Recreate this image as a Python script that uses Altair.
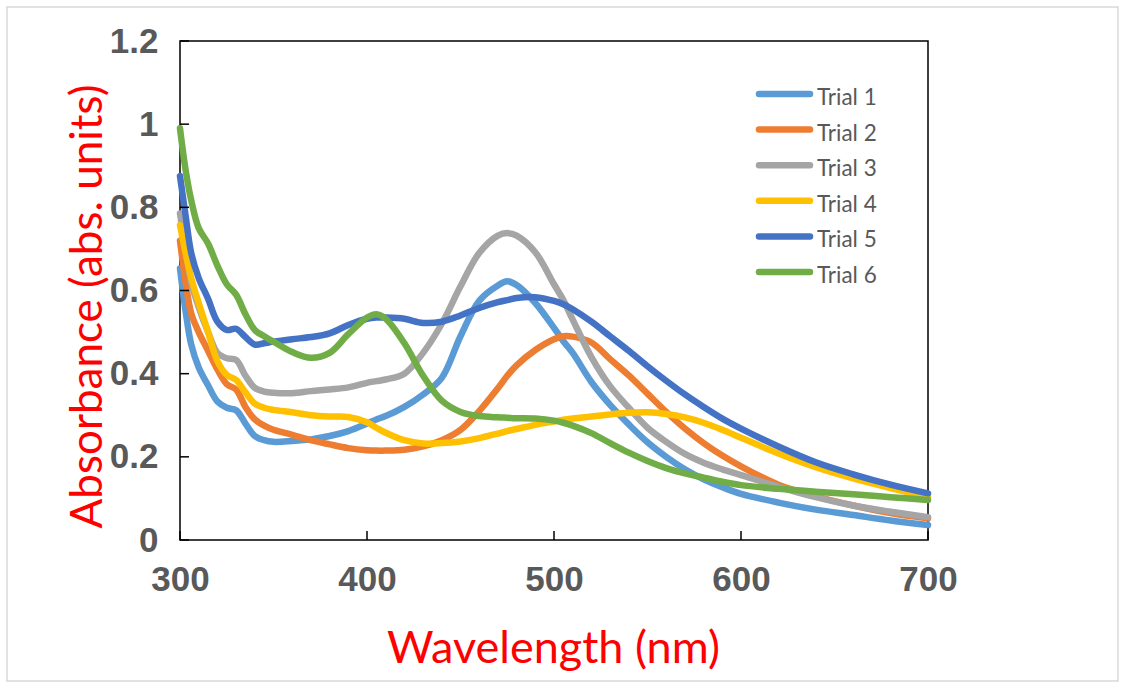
import altair as alt
import pandas as pd

# ---------------- data ----------------
wavelength = [300, 303, 306, 310, 315, 320, 325, 330, 335, 340, 345, 350, 360, 370, 380,
              390, 400, 405, 410, 420, 430, 440, 450, 460, 470, 475, 480, 490, 500, 505,
              510, 520, 530, 540, 550, 560, 570, 580, 590, 600, 620, 640, 660, 680, 700]

trial_1 = [0.653, 0.55, 0.47, 0.415, 0.372, 0.333, 0.318, 0.312, 0.28, 0.25,
           0.24, 0.236, 0.238, 0.242, 0.25, 0.262, 0.28, 0.29, 0.298, 0.32,
           0.35, 0.39, 0.49, 0.575, 0.612, 0.622, 0.613, 0.57, 0.51, 0.478,
           0.45, 0.38, 0.325, 0.278, 0.235, 0.2, 0.17, 0.146, 0.127, 0.111,
           0.09, 0.073, 0.06, 0.047, 0.036]
trial_2 = [0.72, 0.62, 0.545, 0.50, 0.455, 0.41, 0.375, 0.362, 0.32, 0.29,
           0.275, 0.265, 0.253, 0.24, 0.23, 0.221, 0.216, 0.215, 0.215, 0.217,
           0.225, 0.24, 0.265, 0.31, 0.365, 0.395, 0.42, 0.457, 0.483, 0.49,
           0.489, 0.475, 0.435, 0.396, 0.352, 0.308, 0.268, 0.233, 0.203, 0.177,
           0.133, 0.105, 0.083, 0.065, 0.052]
trial_3 = [0.785, 0.70, 0.62, 0.56, 0.50, 0.45, 0.437, 0.433, 0.395, 0.366,
           0.357, 0.354, 0.353, 0.358, 0.362, 0.367, 0.378, 0.382, 0.386, 0.40,
           0.45, 0.52, 0.61, 0.69, 0.732, 0.738, 0.732, 0.692, 0.615, 0.577,
           0.53, 0.44, 0.37, 0.318, 0.27, 0.236, 0.207, 0.186, 0.17, 0.156,
           0.128, 0.103, 0.083, 0.068, 0.055]
trial_4 = [0.757, 0.69, 0.63, 0.57, 0.50, 0.43, 0.397, 0.385, 0.355, 0.328,
           0.318, 0.313, 0.307, 0.30, 0.297, 0.296, 0.283, 0.27, 0.258, 0.24,
           0.232, 0.233, 0.237, 0.245, 0.256, 0.262, 0.267, 0.277, 0.285, 0.289,
           0.292, 0.297, 0.302, 0.306, 0.307, 0.303, 0.295, 0.282, 0.265, 0.246,
           0.208, 0.175, 0.148, 0.125, 0.104]
trial_5 = [0.875, 0.78, 0.69, 0.63, 0.58, 0.525, 0.505, 0.508, 0.488, 0.47,
           0.473, 0.477, 0.483, 0.488, 0.497, 0.517, 0.532, 0.535, 0.535, 0.532,
           0.522, 0.525, 0.54, 0.558, 0.572, 0.577, 0.582, 0.584, 0.575, 0.567,
           0.555, 0.525, 0.49, 0.455, 0.418, 0.383, 0.35, 0.32, 0.292, 0.268,
           0.225, 0.187, 0.158, 0.133, 0.112]
trial_6 = [0.99, 0.89, 0.817, 0.75, 0.713, 0.66, 0.615, 0.59, 0.543, 0.505,
           0.49, 0.477, 0.452, 0.438, 0.45, 0.495, 0.535, 0.543, 0.532, 0.473,
           0.395, 0.335, 0.308, 0.298, 0.295, 0.294, 0.293, 0.292, 0.287, 0.282,
           0.275, 0.257, 0.233, 0.21, 0.19, 0.173, 0.16, 0.15, 0.14, 0.132,
           0.123, 0.116, 0.11, 0.103, 0.096]

trials = ["Trial 1", "Trial 2", "Trial 3", "Trial 4", "Trial 5", "Trial 6"]
series = [trial_1, trial_2, trial_3, trial_4, trial_5, trial_6]
colors = ["#5B9BD5", "#ED7D31", "#A5A5A5", "#FFC000", "#4472C4", "#70AD47"]

x_ticks = [300, 400, 500, 600, 700]
y_ticks = [0, 0.2, 0.4, 0.6, 0.8, 1.0, 1.2]

# ---------------- tables ----------------
rows = []
for name, vals in zip(trials, series):
    for w, a in zip(wavelength, vals):
        rows.append({"trial": name, "wavelength": w, "absorbance": a})
df = pd.DataFrame(rows)
legend_df = pd.DataFrame({"trial": trials, "rank": list(range(len(trials)))})

W, H = 748, 499
LABEL_GRAY = "#595959"

x_scale = alt.Scale(domain=[300, 700], nice=False, zero=False)
y_scale = alt.Scale(domain=[0, 1.2], nice=False, zero=False)
color_scale = alt.Scale(domain=trials, range=colors)

lines = alt.Chart(df).mark_line(
    interpolate="catmull-rom", strokeWidth=6.5, strokeCap="round", strokeJoin="round"
).encode(
    x=alt.X("wavelength:Q", scale=x_scale,
            axis=alt.Axis(values=x_ticks, title="Wavelength (nm)", domain=False, ticks=False,
                          grid=False, labelFont="Liberation Sans", labelFontWeight="bold",
                          labelFontSize=35, labelColor=LABEL_GRAY, labelPadding=22,
                          labelFlush=False, labelOverlap=False, labelBound=False,
                          titleFont="Lato", titleFontSize=45, titleFontWeight="normal",
                          titleColor="#FF0000", titleX=373, titleY=122,
                          titleBaseline="alphabetic", titleAlign="center")),
    y=alt.Y("absorbance:Q", scale=y_scale,
            axis=alt.Axis(values=y_ticks, format="~g", title="Absorbance (abs. units)",
                          domain=False, ticks=False, grid=False,
                          labelFont="Liberation Sans", labelFontWeight="bold",
                          labelFontSize=35, labelColor=LABEL_GRAY, labelPadding=22,
                          labelFlush=False, labelOverlap=False, labelBound=False,
                          titleFont="Lato", titleFontSize=44, titleFontWeight="normal",
                          titleColor="#FF0000", titleAngle=270, titleX=-79, titleY=265,
                          titleBaseline="alphabetic", titleAlign="center")),
    color=alt.Color("trial:N", scale=color_scale, legend=None),
)

ytick_marks = alt.Chart(pd.DataFrame({"v": y_ticks})).mark_rule(
    color="black", strokeWidth=1.5
).encode(
    y=alt.Y("v:Q", scale=y_scale, axis=None),
    x=alt.value(0), x2=alt.value(9),
)

xtick_marks = alt.Chart(pd.DataFrame({"v": x_ticks})).mark_rule(
    color="black", strokeWidth=1.5
).encode(
    x=alt.X("v:Q", scale=x_scale, axis=None),
    y=alt.value(H), y2=alt.value(H - 9),
)

legend_scale = alt.Scale(domain=[0, len(trials) - 1], range=[53, 231])

legend_lines = alt.Chart(legend_df).mark_rule(strokeWidth=6.5, strokeCap="round").encode(
    y=alt.Y("rank:Q", scale=legend_scale, axis=None),
    x=alt.value(579), x2=alt.value(630),
    color=alt.Color("trial:N", scale=color_scale, legend=None),
)

legend_text = alt.Chart(legend_df).mark_text(
    align="left", baseline="middle", font="Lato", fontSize=22.5, color=LABEL_GRAY, dy=4
).encode(
    y=alt.Y("rank:Q", scale=legend_scale, axis=None),
    x=alt.value(637),
    text="trial:N",
)

border = alt.Chart(pd.DataFrame({"a": [0]})).mark_rect(
    fill=None, stroke="#D9D9D9", strokeWidth=1.5
).encode(
    x=alt.value(-173), x2=alt.value(938), y=alt.value(-34), y2=alt.value(640),
)

chart = alt.layer(
    lines, border, ytick_marks, xtick_marks, legend_lines, legend_text
).resolve_scale(
    x="independent", y="independent"
).properties(
    width=W, height=H,
    autosize=alt.AutoSizeParams(type="none"),
    padding={"left": 180, "top": 41, "right": 199, "bottom": 149},
    background="white",
).configure_view(
    stroke="black", strokeWidth=1.5
)

chart.save("out.html", embed_options={"renderer": "svg", "actions": False})
